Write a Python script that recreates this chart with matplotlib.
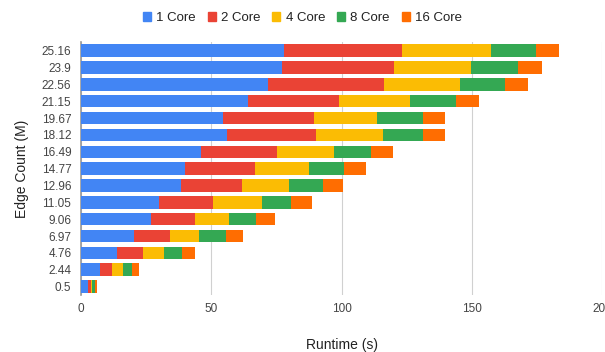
import numpy as np
import matplotlib
matplotlib.use('Agg')
from matplotlib import pyplot as plt
from matplotlib.patches import Patch

plt.rcParams['font.family'] = ['Liberation Sans', 'DejaVu Sans']

# edge counts (M), bottom to top
edge_counts = ['0.5', '2.44', '4.76', '6.97', '9.06', '11.05', '12.96', '14.77',
               '16.49', '18.12', '19.67', '21.15', '22.56', '23.9', '25.16']

# runtime per core count (s), same order as edge_counts
core_1 = [2.5, 7.2, 13.9, 20.3, 26.9, 30.0, 38.4, 39.9, 45.9, 56.0, 54.5, 64.0, 71.9, 77.1, 78.1]
core_2 = [1.2, 4.7, 9.7, 13.7, 16.8, 20.5, 23.5, 27.0, 29.2, 34.1, 35.0, 35.2, 44.6, 42.9, 45.1]
core_4 = [0.5, 4.2, 8.4, 11.3, 13.2, 18.8, 18.0, 20.6, 22.0, 25.8, 24.2, 27.2, 29.0, 29.6, 34.1]
core_8 = [1.2, 3.5, 6.8, 10.3, 10.3, 11.2, 12.8, 13.4, 14.2, 15.4, 17.4, 17.5, 17.4, 18.0, 17.5]
core_16 = [0.7, 2.8, 4.9, 6.5, 7.1, 8.0, 8.0, 8.6, 8.6, 8.6, 8.8, 9.0, 8.7, 9.3, 8.8]

series = [('1 Core', core_1, '#4285F4'),
          ('2 Core', core_2, '#EA4335'),
          ('4 Core', core_4, '#FBBC04'),
          ('8 Core', core_8, '#34A853'),
          ('16 Core', core_16, '#FF6D01')]

fig = plt.figure(figsize=(6.05, 3.52), dpi=100)
ax = fig.add_axes([0.134, 0.162, 0.861, 0.718])

y = np.arange(len(edge_counts))
left = np.zeros(len(edge_counts))
for name, vals, col in series:
    ax.barh(y, vals, left=left, height=0.74, color=col, label=name, zorder=3)
    left += np.array(vals)

ax.set_xlim(0, 200)
ax.set_ylim(-0.5, len(edge_counts) - 0.5)
ax.set_xticks([0, 50, 100, 150, 200])
ax.set_yticks(y)
ax.set_yticklabels(edge_counts)
ax.tick_params(length=0, labelsize=8.5, colors='#444444', pad=7)
ax.tick_params(axis='x', pad=6)

ax.grid(axis='x', color='#d0d0d0', linewidth=0.8, zorder=0)
for s in ['top', 'right', 'bottom']:
    ax.spines[s].set_visible(False)
ax.spines['left'].set_color('#999999')
ax.spines['left'].set_linewidth(1.2)

ax.set_xlabel('Runtime (s)', fontsize=10, color='#222222', labelpad=16)
ax.set_ylabel('Edge Count (M)', fontsize=10, color='#222222', labelpad=9)

handles = [Patch(color=c, label=n) for n, _, c in series]
fig.legend(handles=handles, loc='center', bbox_to_anchor=(0.5, 0.948), ncol=5,
           frameon=False, fontsize=9.5, handlelength=0.6, handleheight=0.6,
           handletextpad=0.4, columnspacing=0.9, labelcolor='#222222')

fig.savefig('out.png', dpi=100)
